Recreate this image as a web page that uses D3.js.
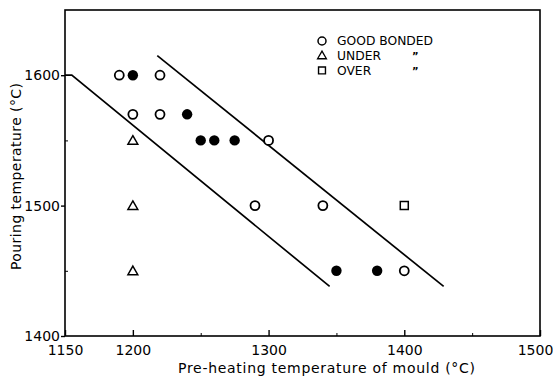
<!DOCTYPE html>
<html>
<head>
<meta charset="utf-8">
<script src="https://cdn.jsdelivr.net/npm/d3@7"></script>
<style>
	body { margin: 0; background: #fff; }
	text { font-family: "DejaVu Sans", sans-serif; fill: #000; }
</style>
</head>
<body>
<script>
// tick labels
const xTicks = [1150, 1200, 1300, 1400, 1500];
const xMinor = [1250, 1350, 1450];
const yTicks = [1400, 1500, 1600];
const yMinor = [1450, 1550];

// good bonded (open circles)
const goodX = [1190, 1220, 1200, 1220, 1300, 1290, 1340, 1400];
const goodY = [1600, 1600, 1570, 1570, 1550, 1500, 1500, 1450];
// filled circles
const solidX = [1200, 1240, 1250, 1260, 1275, 1350, 1380];
const solidY = [1600, 1570, 1550, 1550, 1550, 1450, 1450];
// under bonded (triangles)
const underX = [1200, 1200, 1200];
const underY = [1550, 1500, 1450];
// over bonded (squares)
const overX = [1400];
const overY = [1500];

// boundary lines
const lowerX = [1150, 1155, 1345];
const lowerY = [1600, 1600, 1438];
const upperX = [1218, 1429];
const upperY = [1615, 1438];

const legendLabels = ["GOOD BONDED", "UNDER", "OVER"];

const drawViz = () => {
	const width = 553;
	const height = 378;

	const svg = d3.select("body")
		.append("svg")
		.attr("width", width)
		.attr("height", height);

	const x = d3.scaleLinear().domain([1150, 1500]).range([65, 540]);
	const y = d3.scaleLinear().domain([1400, 1650]).range([336, 10]);

	// frame
	svg.append("rect")
		.attr("x", x(1150)).attr("y", y(1650))
		.attr("width", x(1500) - x(1150))
		.attr("height", y(1400) - y(1650))
		.style("fill", "none")
		.style("stroke", "#000")
		.style("stroke-width", 1.6);

	// x-axis, ticks pointing inward
	const xAxis = svg.append("g")
		.attr("transform", `translate(0, ${y(1400)})`)
		.call(d3.axisBottom(x).tickValues(xTicks).tickSize(-6).tickPadding(9).tickFormat(d3.format("d")));
	xAxis.select(".domain").remove();
	xAxis.selectAll("line").style("stroke-width", 1.4);
	xAxis.selectAll("text")
		.style("font-size", "14px")
		.style("font-family", "DejaVu Sans")
		.attr("x", d => d === 1500 ? -5 : 0);

	svg.append("g")
		.attr("transform", `translate(0, ${y(1400)})`)
		.call(d3.axisBottom(x).tickValues(xMinor).tickSize(-3).tickFormat(""))
		.select(".domain").remove();

	// y-axis, ticks pointing outward
	const yAxis = svg.append("g")
		.attr("transform", `translate(${x(1150)}, 0)`)
		.call(d3.axisLeft(y).tickValues(yTicks).tickSize(4).tickPadding(1).tickFormat(d3.format("d")));
	yAxis.select(".domain").remove();
	yAxis.selectAll("line").style("stroke-width", 1.4);
	yAxis.selectAll("text").style("font-size", "14px").style("font-family", "DejaVu Sans");

	svg.append("g")
		.attr("transform", `translate(${x(1150)}, 0)`)
		.call(d3.axisRight(y).tickValues(yMinor).tickSize(3).tickFormat(""))
		.select(".domain").remove();

	// axis titles
	svg.append("text")
		.attr("x", 178)
		.attr("y", 373)
		.attr("textLength", 297)
		.attr("lengthAdjust", "spacing")
		.style("font-size", "14px")
		.text("Pre-heating temperature of mould (°C)");

	svg.append("text")
		.attr("transform", "translate(21, 270) rotate(-90)")
		.attr("textLength", 187)
		.attr("lengthAdjust", "spacing")
		.style("font-size", "14px")
		.text("Pouring temperature (°C)");

	// boundary lines
	const line = d3.line().x(d => x(d[0])).y(d => y(d[1]));
	[[lowerX, lowerY], [upperX, upperY]].forEach(([xs, ys]) => {
		svg.append("path")
			.attr("d", line(d3.zip(xs, ys)))
			.style("fill", "none")
			.style("stroke", "#000")
			.style("stroke-width", 1.7);
	});

	const tri = d3.symbol().type(d3.symbolTriangle).size(42);
	const sq = d3.symbol().type(d3.symbolSquare).size(64);

	// markers
	svg.append("g").selectAll("circle")
		.data(d3.zip(goodX, goodY))
		.enter().append("circle")
		.attr("cx", d => x(d[0])).attr("cy", d => y(d[1]))
		.attr("r", 4.5)
		.style("fill", "#fff").style("stroke", "#000").style("stroke-width", 1.8);

	svg.append("g").selectAll("circle")
		.data(d3.zip(solidX, solidY))
		.enter().append("circle")
		.attr("cx", d => x(d[0])).attr("cy", d => y(d[1]))
		.attr("r", 5.2)
		.style("fill", "#000");

	svg.append("g").selectAll("path")
		.data(d3.zip(underX, underY))
		.enter().append("path")
		.attr("d", tri)
		.attr("transform", d => `translate(${x(d[0])}, ${y(d[1]) + 1})`)
		.style("fill", "#fff").style("stroke", "#000").style("stroke-width", 1.5);

	svg.append("g").selectAll("path")
		.data(d3.zip(overX, overY))
		.enter().append("path")
		.attr("d", sq)
		.attr("transform", d => `translate(${x(d[0])}, ${y(d[1])})`)
		.style("fill", "#fff").style("stroke", "#000").style("stroke-width", 1.5);

	// legend
	const legend = svg.append("g").attr("transform", "translate(322, 41)");
	const legendItems = legend.selectAll("g")
		.data(legendLabels)
		.enter().append("g")
		.attr("transform", (d, i) => `translate(0, ${i * 14.7})`);

	legendItems.each(function (d, i) {
		const g = d3.select(this);
		if (i === 0) {
			g.append("circle").attr("r", 4)
				.style("fill", "#fff").style("stroke", "#000").style("stroke-width", 1.5);
		} else if (i === 1) {
			g.append("path").attr("d", d3.symbol().type(d3.symbolTriangle).size(34))
				.attr("transform", "translate(0, 0.5)")
				.style("fill", "#fff").style("stroke", "#000").style("stroke-width", 1.3);
		} else {
			g.append("path").attr("d", d3.symbol().type(d3.symbolSquare).size(48))
				.style("fill", "#fff").style("stroke", "#000").style("stroke-width", 1.4);
		}
		g.append("text")
			.attr("x", 15)
			.attr("dy", "0.36em")
			.style("font-size", "12.3px")
			.text(d);
		if (i > 0) {
			g.append("text")
				.attr("x", 90)
				.attr("dy", "0.45em")
				.style("font-size", "10px")
				.style("font-weight", "bold")
				.text("\u201D");
		}
	});
};

drawViz();
</script>
</body>
</html>
